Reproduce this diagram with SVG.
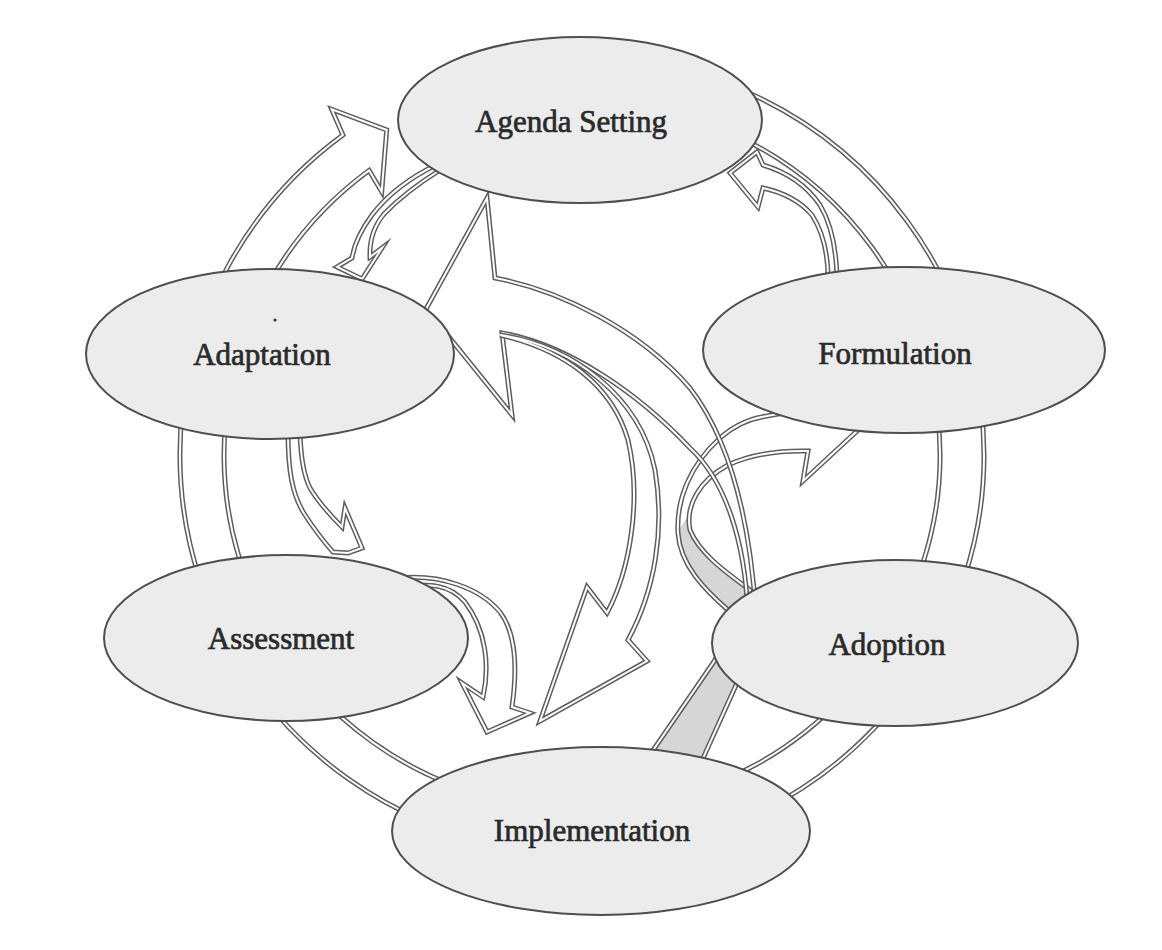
<svg xmlns="http://www.w3.org/2000/svg" xmlns:xlink="http://www.w3.org/1999/xlink" width="1162" height="950" viewBox="0 0 1162 950">
<style>
.dk{fill:none;stroke:#5e5e5e;stroke-width:5;stroke-linejoin:miter;stroke-miterlimit:10}
.wt{fill:none;stroke:#ffffff;stroke-width:2;stroke-linejoin:miter;stroke-miterlimit:10}
.node{fill:#ececec;stroke:#4e4e4e;stroke-width:2}
.lbl{font-family:"Liberation Serif","Times New Roman",serif;font-weight:normal;font-size:31px;fill:#2a2a2a;stroke:#2a2a2a;stroke-width:0.7;text-anchor:middle}
.shade{fill:#d6d6d6;stroke:none}
</style>
<defs>
<path id="ring" d="M 582,57 A 402 398 0 1 1 342.9,135 L 331.7,109.3 L 386.7,130 L 381.7,191.7 L 369.1,170.4 A 358 354 0 1 0 582,101 Z"/>
<path id="s1" d="M 436,165 Q 395,185 372,215 Q 355,238 352,258 L 337,267 L 362,279 L 382,248 L 370,257 Q 369,232 384,214 Q 405,192 440,170 Z"/>
<path id="s2" d="M 730,173 L 757,152 L 763,165 Q 800,176 820,205 Q 836,232 837,278 L 828,278 Q 828,240 812,215 Q 795,195 763,188 L 758,207 Z"/>
<path id="s3" d="M 288,432 C 288,470 292,495 305,515 Q 318,535 333,552 L 348,553 L 362,548 L 345,508 L 342,527 Q 320,505 310,488 Q 301,470 300,432 Z"/>
<path id="s4" d="M 400,578 C 440,574 480,588 500,612 C 515,632 518,665 512,707 L 530,713 L 487,732 L 462,683 L 483,697 C 490,665 486,630 465,602 C 450,585 430,582 400,588 Z"/>
<path id="bigA" d="M 487,198 L 495,278 C 560,290 640,330 690,388 C 730,440 750,520 756,615 L 748,615 C 745,540 725,480 690,448 C 640,395 570,345 502,333 L 512,415 L 445,332 L 420,320 Z"/>
<path id="bigB" d="M 500,335 C 570,345 640,395 655,470 C 665,530 655,590 628,640 L 647,661 L 540,721 L 587,587 L 607,613 C 630,570 642,500 628,440 C 612,385 565,350 500,335 Z"/>
<path id="loop" d="M 645,762 L 713,663 Q 728,640 728,610 C 705,590 680,565 678,533 C 676,500 690,465 720,438 Q 740,420 767,416 L 800,410 L 818,404 L 857,431 L 803,481 L 808,451 Q 760,450 728,465 C 700,480 685,505 690,530 C 700,555 730,575 750,590 Q 752,640 737,683 L 700,765 Z"/>
</defs>

<g id="connectors">
  <g id="cycle-ring">
    <use xlink:href="#ring" class="dk"/>
    <use xlink:href="#ring" class="wt"/>
  </g>
  <g id="loop-ribbon">
    <path class="shade" d="M 688,516 L 678,531 L 678,533 C 680,565 705,590 728,610 Q 728,640 713,663 L 645,762 L 700,765 L 737,683 Q 752,640 750,590 C 730,575 700,555 690,530 Z"/>
    <use xlink:href="#loop" class="dk"/>
    <use xlink:href="#loop" class="wt"/>
  </g>
  <g id="arrow-adoption-agenda">
    <use xlink:href="#bigA" class="dk"/>
    <use xlink:href="#bigA" class="wt"/>
  </g>
  <g id="arrow-center-implementation">
    <use xlink:href="#bigB" class="dk"/>
    <use xlink:href="#bigB" class="wt"/>
  </g>
  <g id="arrow-agenda-adaptation">
    <use xlink:href="#s1" class="dk"/>
    <use xlink:href="#s1" class="wt"/>
  </g>
  <g id="arrow-formulation-agenda">
    <use xlink:href="#s2" class="dk"/>
    <use xlink:href="#s2" class="wt"/>
  </g>
  <g id="arrow-adaptation-assessment">
    <use xlink:href="#s3" class="dk"/>
    <use xlink:href="#s3" class="wt"/>
  </g>
  <g id="arrow-assessment-implementation">
    <use xlink:href="#s4" class="dk"/>
    <use xlink:href="#s4" class="wt"/>
  </g>
</g>

<g id="node-agenda-setting">
  <ellipse class="node" cx="580" cy="120" rx="182" ry="83"/>
  <text class="lbl" x="571" y="132">Agenda Setting</text>
</g>
<g id="node-adaptation">
  <ellipse class="node" cx="270" cy="354" rx="184" ry="85"/>
  <circle cx="275" cy="320" r="1.6" fill="#333"/>
  <text class="lbl" x="262" y="365">Adaptation</text>
</g>
<g id="node-formulation">
  <ellipse class="node" cx="904" cy="350" rx="201" ry="83"/>
  <text class="lbl" x="895" y="364">Formulation</text>
</g>
<g id="node-assessment">
  <ellipse class="node" cx="286" cy="638" rx="182" ry="83"/>
  <text class="lbl" x="281" y="649">Assessment</text>
</g>
<g id="node-adoption">
  <ellipse class="node" cx="895" cy="643" rx="183" ry="83"/>
  <text class="lbl" x="887" y="655">Adoption</text>
</g>
<g id="node-implementation">
  <ellipse class="node" cx="601" cy="831" rx="209" ry="84"/>
  <text class="lbl" x="592" y="841">Implementation</text>
</g>
</svg>
